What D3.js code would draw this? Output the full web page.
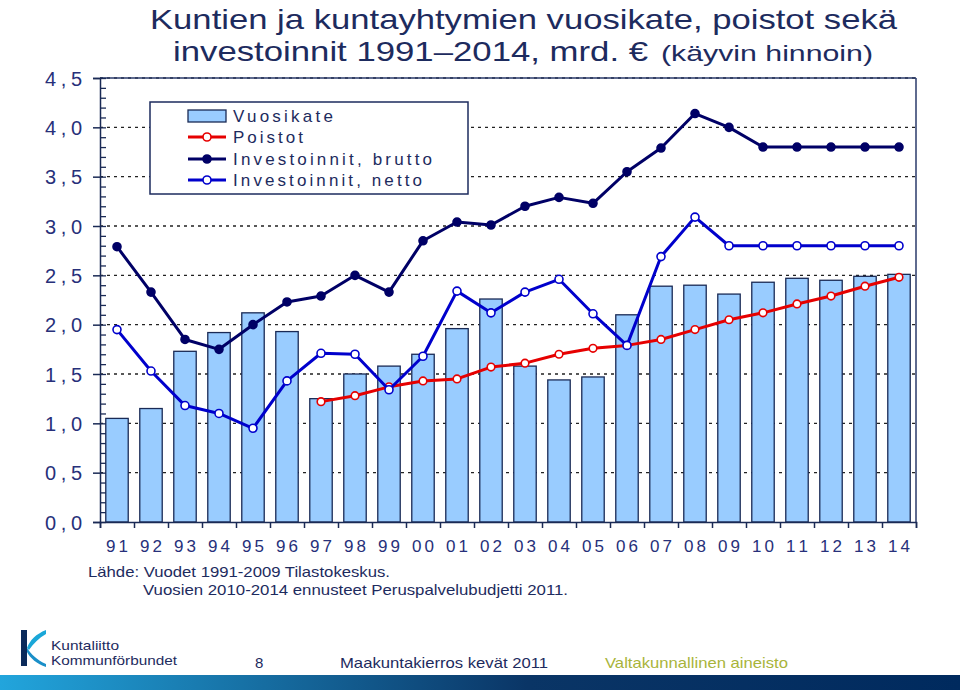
<!DOCTYPE html>
<html><head><meta charset="utf-8">
<script src="https://cdn.jsdelivr.net/npm/d3@7/dist/d3.min.js"></script>
<style>
html,body{margin:0;padding:0;background:#fff;}
svg{display:block;}
</style></head>
<body>
<svg id="c" width="960" height="690"></svg>
<script>
// ---- data ----
const years = ["91","92","93","94","95","96","97","98","99","00","01","02","03","04","05","06","07","08","09","10","11","12","13","14"];
const vuosikate = [1.05,1.15,1.73,1.92,2.12,1.93,1.25,1.50,1.58,1.70,1.96,2.26,1.58,1.44,1.47,2.10,2.39,2.40,2.31,2.43,2.47,2.45,2.49,2.51];
const poistot = [null,null,null,null,null,null,1.22,1.28,1.37,1.43,1.45,1.57,1.61,1.70,1.76,1.79,1.85,1.95,2.05,2.12,2.21,2.29,2.39,2.48];
const brutto = [2.79,2.33,1.85,1.75,2.00,2.23,2.29,2.50,2.33,2.85,3.04,3.01,3.20,3.29,3.23,3.55,3.79,4.14,4.00,3.80,3.80,3.80,3.80,3.80];
const netto = [1.95,1.53,1.18,1.10,0.95,1.43,1.71,1.70,1.34,1.68,2.34,2.12,2.33,2.46,2.11,1.79,2.69,3.09,2.80,2.80,2.80,2.80,2.80,2.80];
const yTicks = [0,0.5,1,1.5,2,2.5,3,3.5,4,4.5];
const yTickLabels = ["0,0","0,5","1,0","1,5","2,0","2,5","3,0","3,5","4,0","4,5"];
const legendLabels = ["Vuosikate","Poistot","Investoinnit, brutto","Investoinnit, netto"];
const titleLines = ["Kuntien ja kuntayhtymien vuosikate, poistot sekä","investoinnit 1991\u20132014, mrd. \u20ac","(käyvin hinnoin)"];
const sourceLines = ["Lähde: Vuodet 1991-2009 Tilastokeskus.","Vuosien 2010-2014 ennusteet Peruspalvelubudjetti 2011."];
const footer = {page:"8", event:"Maakuntakierros kevät 2011", scope:"Valtakunnallinen aineisto", org1:"Kuntaliitto", org2:"Kommunförbundet"};

// ---- layout ----
const svg = d3.select("#c");
const L = 100, R = 916, T = 78, B = 522;
const navy = "#1d2b5e";
const axisCol = "#27307a";
const narrow = "'Liberation Sans Narrow','Arial Narrow','Liberation Sans',Arial,sans-serif";
const sans = "'Liberation Sans',Arial,sans-serif";

const x = d3.scaleBand().domain(years).range([L, R]).paddingInner(0.34).paddingOuter(0.17);
const xb = d3.scaleLinear().domain([0, years.length]).range([L, R]);
const y = d3.scaleLinear().domain([0, 4.5]).range([B, T]);

// title
svg.append("text").attr("x",150).attr("y",29).attr("textLength",747).attr("lengthAdjust","spacingAndGlyphs")
  .style("font-family",narrow).style("font-size","28px").attr("fill",navy).text(titleLines[0]);
svg.append("text").attr("x",173).attr("y",60.5).attr("textLength",475).attr("lengthAdjust","spacingAndGlyphs")
  .style("font-family",narrow).style("font-size","28px").attr("fill",navy).text(titleLines[1]);
svg.append("text").attr("x",661).attr("y",60.5).attr("textLength",212).attr("lengthAdjust","spacingAndGlyphs")
  .style("font-family",sans).style("font-size","22px").attr("fill",navy).text(titleLines[2]);

// grid
svg.append("g").selectAll("line").data(yTicks.filter(v=>v>0)).join("line")
  .attr("x1",L).attr("x2",R).attr("y1",d=>y(d)).attr("y2",d=>y(d))
  .attr("stroke","#222").attr("stroke-width",1.3).attr("stroke-dasharray","3,4");

// bars
svg.append("g").selectAll("rect").data(vuosikate).join("rect")
  .attr("x",(d,i)=>x(years[i])).attr("width",x.bandwidth())
  .attr("y",d=>y(d)).attr("height",d=>B-y(d))
  .attr("fill","#99ccff").attr("stroke","#1a2a55").attr("stroke-width",1.3);

// frame
svg.append("line").attr("x1",L).attr("x2",R).attr("y1",T).attr("y2",T).attr("stroke","#2a3a6a").attr("stroke-width",1.5);
svg.append("line").attr("x1",R).attr("x2",R).attr("y1",T).attr("y2",B).attr("stroke","#2a3a6a").attr("stroke-width",1.5);

// y axis major
const yAxis = svg.append("g").attr("transform",`translate(${L},0)`)
  .call(d3.axisLeft(y).tickValues(yTicks).tickSize(7).tickFormat((d,i)=>yTickLabels[i]));
yAxis.select(".domain").attr("stroke","#1a2a55").attr("stroke-width",1.5);
yAxis.selectAll(".tick line").attr("stroke","#1a2a55").attr("stroke-width",1.5);
yAxis.selectAll(".tick text").attr("x",-18).attr("dy","0.36em").attr("fill",axisCol)
  .attr("textLength",37).attr("lengthAdjust","spacing")
  .style("font-family",sans).style("font-size","20px");
// y axis minor
const yMinor = svg.append("g").attr("transform",`translate(${L},0)`)
  .call(d3.axisRight(y).tickValues(d3.range(0,46).map(v=>v/10)).tickSize(6).tickFormat(""));
yMinor.select(".domain").remove();
yMinor.selectAll(".tick line").attr("stroke","#1a2a55").attr("stroke-width",1.3);

// x axis boundary ticks
const xTicksG = svg.append("g").attr("transform",`translate(0,${B})`)
  .call(d3.axisBottom(xb).tickValues(d3.range(0,years.length+1)).tickSize(6).tickFormat(""));
xTicksG.select(".domain").attr("stroke","#1a2a55").attr("stroke-width",1.5);
xTicksG.selectAll(".tick line").attr("stroke","#1a2a55").attr("stroke-width",1.5);
// x labels
const xLab = svg.append("g").attr("transform",`translate(0,${B})`)
  .call(d3.axisBottom(x).tickSize(0).tickPadding(18));
xLab.select(".domain").remove();
xLab.selectAll(".tick text").attr("fill",axisCol).style("font-family",sans).style("font-size","17px")
  .attr("textLength",22).attr("lengthAdjust","spacing");

// lines
function series(data, color, fill, r){
  const pts = data.map((v,i)=>({v,i})).filter(d=>d.v!=null);
  const line = d3.line().x(d=>x(years[d.i])+x.bandwidth()/2).y(d=>y(d.v));
  svg.append("path").datum(pts).attr("d",line).attr("fill","none").attr("stroke",color).attr("stroke-width",3).attr("stroke-linejoin","round");
  svg.append("g").selectAll("circle").data(pts).join("circle")
    .attr("cx",d=>x(years[d.i])+x.bandwidth()/2).attr("cy",d=>y(d.v)).attr("r",r)
    .attr("fill",fill).attr("stroke",color).attr("stroke-width",1.6);
}
series(poistot,"#e60000","#fff",3.8);
series(netto,"#0000cc","#fff",4);
series(brutto,"#000066","#000066",4);

// legend
const lg = svg.append("g");
lg.append("rect").attr("x",150).attr("y",102).attr("width",318).attr("height",92).attr("fill","#fff").attr("stroke","#1d2b5e").attr("stroke-width",1.5);
const rows = [116,137,159,180];
const lens = [100,70,199,189];
lg.append("rect").attr("x",188).attr("y",rows[0]-6).attr("width",38).attr("height",12).attr("fill","#99ccff").attr("stroke","#1a2a55").attr("stroke-width",1.3);
const legStyles = [null,{c:"#e60000",f:"#fff"},{c:"#000066",f:"#000066"},{c:"#0000cc",f:"#fff"}];
legStyles.forEach((s,i)=>{
  if(!s) return;
  lg.append("line").attr("x1",188).attr("x2",226).attr("y1",rows[i]).attr("y2",rows[i]).attr("stroke",s.c).attr("stroke-width",3);
  lg.append("circle").attr("cx",207).attr("cy",rows[i]).attr("r",4).attr("fill",s.f).attr("stroke",s.c).attr("stroke-width",1.6);
});
legendLabels.forEach((t,i)=>{
  lg.append("text").attr("x",233).attr("y",rows[i]+6).attr("textLength",lens[i]).attr("lengthAdjust","spacing")
    .style("font-family",sans).style("font-size","17px").attr("fill",navy).text(t);
});

// source
svg.append("text").attr("x",88).attr("y",577).attr("textLength",302).attr("lengthAdjust","spacingAndGlyphs")
  .style("font-family",narrow).style("font-size","15px").attr("fill",navy).text(sourceLines[0]);
svg.append("text").attr("x",143).attr("y",595).attr("textLength",425).attr("lengthAdjust","spacingAndGlyphs")
  .style("font-family",narrow).style("font-size","15px").attr("fill",navy).text(sourceLines[1]);

// footer
const defs = svg.append("defs");
const gr = defs.append("linearGradient").attr("id","band").attr("x1","0").attr("x2","1").attr("y1","0").attr("y2","0");
gr.append("stop").attr("offset","0").attr("stop-color","#22a5dc");
gr.append("stop").attr("offset","0.55").attr("stop-color","#0a3566");
gr.append("stop").attr("offset","1").attr("stop-color","#002a5e");
svg.append("rect").attr("x",0).attr("y",675).attr("width",960).attr("height",15).attr("fill","url(#band)");

// logo
svg.append("rect").attr("x",21).attr("y",630).attr("width",6).attr("height",36).attr("fill","#0b2a5a");
svg.append("path").attr("d","M46,630 C36,634 30,640 27,648 L29,650 C33,644 39,638 46,634 Z").attr("fill","#1aa7d8");
svg.append("path").attr("d","M27,648 C31,654 37,660 46,664 L46,667 C37,664 30,658 27,652 Z").attr("fill","#1a8fc8");
svg.append("text").attr("x",51).attr("y",650).attr("textLength",68).attr("lengthAdjust","spacingAndGlyphs")
  .style("font-family",sans).style("font-size","13.5px").attr("fill","#1d2b5e").text(footer.org1);
svg.append("text").attr("x",51).attr("y",665).attr("textLength",126).attr("lengthAdjust","spacingAndGlyphs")
  .style("font-family",sans).style("font-size","13.5px").attr("fill","#1d2b5e").text(footer.org2);
svg.append("text").attr("x",255).attr("y",668).style("font-family",sans).style("font-size","15px").attr("fill","#1d2b5e").text(footer.page);
svg.append("text").attr("x",340).attr("y",668).attr("textLength",208).attr("lengthAdjust","spacingAndGlyphs")
  .style("font-family",narrow).style("font-size","15px").attr("fill","#1d2b5e").text(footer.event);
svg.append("text").attr("x",605).attr("y",668).attr("textLength",183).attr("lengthAdjust","spacingAndGlyphs")
  .style("font-family",sans).style("font-size","15px").attr("fill","#a8b43a").text(footer.scope);
</script>
</body></html>
